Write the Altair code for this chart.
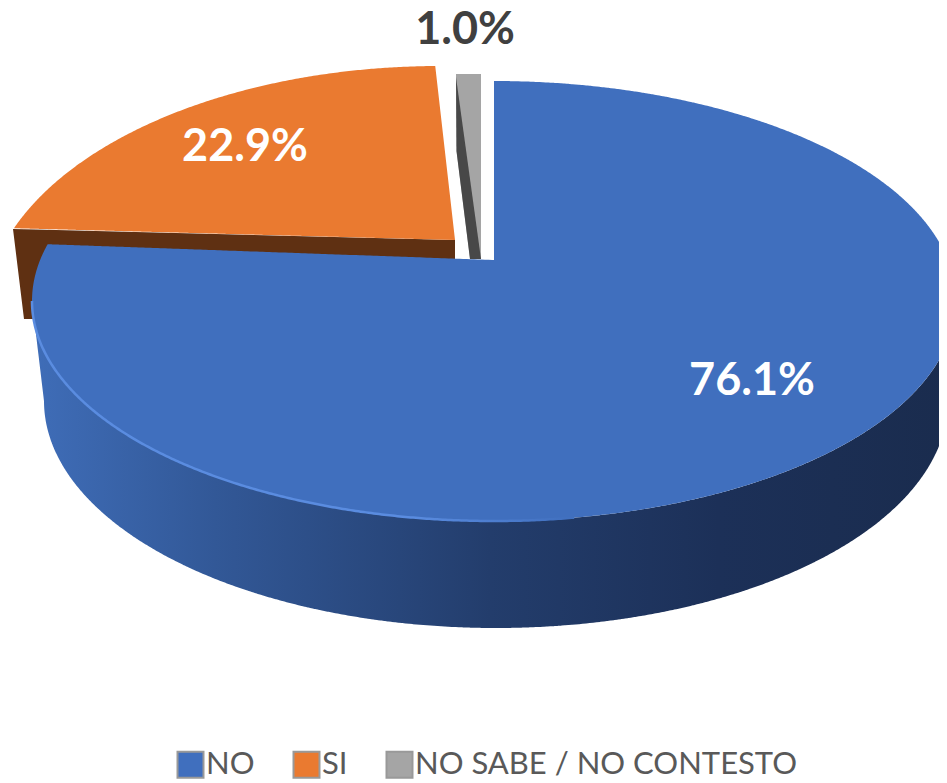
import numpy as np
import pandas as pd
import altair as alt

# Values
categories = ["NO", "SI", "NO SABE / NO CONTESTO"]
values = [76.1, 22.9, 1.0]
labels = ["76.1%", "22.9%", "1.0%"]
colors = ["#406fbe", "#ea7a30", "#a5a5a5"]
label_colors = ["#ffffff", "#ffffff", "#404040"]
label_x = [752, 245, 465]
label_y = [380, 146, 29]

# Page-pixel frame of the chart
X0, X1, Y0, Y1 = 8, 939, 10, 777


def ellipse(cx, cy, rx, ry, a0, a1, n=240):
    t = np.radians(np.linspace(a0, a1, n))
    return cx + rx * np.sin(t), cy - ry * np.cos(t)


def band(top, bottom, **extra):
    xs = np.unique(np.concatenate([top[0], bottom[0]]))
    xs = xs[(xs >= max(top[0].min(), bottom[0].min())) & (xs <= min(top[0].max(), bottom[0].max()))]
    d = pd.DataFrame({"px": xs, "ytop": np.interp(xs, top[0], top[1]), "ybot": np.interp(xs, bottom[0], bottom[1])})
    for k, v in extra.items():
        d[k] = v
    return d


def poly(*pts):
    a = np.array(pts, dtype=float)
    return a[:, 0], a[:, 1]


# Perspective: sweep angles come from the values, shifted by how the 3-D view skews them
blue_end = 3.6 * values[0] + 11
orange_start = 3.6 * values[0] + 16.6
orange_end = 3.6 * (values[0] + values[1]) + 3

BLUE = (494, 300, 462, 220)
LOWER = (496, 400, 452, 227)
ORANGE = (440, 315, 455, 250)

# Blue top face
ex, ey = ellipse(*BLUE, blue_end, 270)          # upper-left rim, running leftwards
bx_mid, by_mid = poly((ex[0], ey[0]), (494, 259))
rx_r, ry_r = ellipse(*BLUE, 0.01, 90)
top_x = np.concatenate([ex[::-1], bx_mid[1:], [494.005], rx_r])
top_y = np.concatenate([ey[::-1], by_mid[1:], [BLUE[1] - BLUE[3]], ry_r])
low_x, low_y = ellipse(*BLUE, 270, 90, 400)
blue_top = band((top_x, top_y), (low_x, low_y), slice=categories[0])

# Blue wall
lx, ly = ellipse(*LOWER, 270, 90, 400)
wall_bx = np.concatenate([[low_x[0]], lx])
wall_by = np.concatenate([[low_y[0]], ly])
blue_wall = band((low_x, low_y), (wall_bx, wall_by))

# Rim highlight
rim_x, rim_y = ellipse(*BLUE, 270, 170, 300)
rim = pd.DataFrame({"px": rim_x, "ytop": rim_y})

# Orange top face and wall
ox, oy = ellipse(*ORANGE, orange_start, orange_end)
o_top = (np.concatenate([ox, [455]]), np.concatenate([oy, [239]]))
o_bot = poly((ox[0], oy[0]), (455, 239))
orange_top = band(o_top, o_bot, slice=categories[1])
brown = band(poly((13, 228), (455, 239)), poly((13, 228), (24, 318), (36, 318), (455, 258)))

# Grey slice
grey_top = band(poly((456, 73), (481, 73)), poly((456, 73), (456.5, 150), (470, 258), (481, 258)), slice=categories[2])
grey_dark = band(poly((456, 76), (481, 258)), poly((456, 76), (456.5, 150), (470, 258), (481, 258)))

xs = alt.Scale(domain=[X0, X1], nice=False, zero=False)
ys = alt.Scale(domain=[Y1, Y0], nice=False, zero=False)
X = alt.X("px:Q", scale=xs, axis=None)
Y = alt.Y("ytop:Q", scale=ys, axis=None, stack=None)
Y2 = alt.Y2("ybot:Q")
color_scale = alt.Scale(domain=categories, range=colors)
legend = alt.Legend(
    title=None, orient="none", legendX=167, legendY=738, direction="horizontal", columns=3,
    symbolType="square", symbolSize=676, symbolStrokeWidth=2, symbolStrokeColor="#999999",
    labelFont="Lato", labelFontSize=31, labelColor="#595959", labelOffset=0,
    columnPadding=34, symbolOpacity=1, labelLimit=500,
)

def plain(df, color):
    return alt.Chart(df).mark_area(color=color, clip=True, orient="vertical").encode(x=X, y=Y, y2=Y2)

def faced(dfs):
    return alt.Chart(pd.concat(dfs)).mark_area(clip=True, orient="vertical").encode(
        x=X, y=Y, y2=Y2,
        color=alt.Color("slice:N", scale=color_scale, legend=legend),
    )

wall_gradient = alt.Gradient(
    gradient="linear", x1=0, x2=1, y1=0, y2=0,
    stops=[
        alt.GradientStop(offset=0, color="#3f6db8"),
        alt.GradientStop(offset=0.2, color="#325897"),
        alt.GradientStop(offset=0.5, color="#233d6c"),
        alt.GradientStop(offset=0.75, color="#1c3058"),
        alt.GradientStop(offset=1, color="#1a2c4e"),
    ],
)
rim_gradient = alt.Gradient(
    gradient="linear", x1=0, x2=1, y1=0, y2=0,
    stops=[
        alt.GradientStop(offset=0, color="#5a8ce0"),
        alt.GradientStop(offset=0.7, color="#5a8ce0"),
        alt.GradientStop(offset=1, color="#406fbe"),
    ],
)

label_df = pd.DataFrame({"px": label_x, "ytop": label_y, "t": labels, "c": label_colors})
text = alt.Chart(label_df).mark_text(font="Lato", fontWeight="bold", fontSize=45, align="center", baseline="middle").encode(
    x=X, y=Y, text="t:N", color=alt.Color("c:N", scale=None, legend=None)
)

chart = alt.layer(
    plain(brown, "#5f3012"),
    plain(blue_wall, wall_gradient),
    faced([orange_top, grey_top, blue_top]),
    plain(grey_dark, "#484848"),
    alt.Chart(rim).mark_line(stroke=rim_gradient, strokeWidth=2.5, clip=True).encode(x=X, y=Y),
    text,
).properties(width=X1 - X0, height=Y1 - Y0, padding=0, background="#ffffff").configure_view(stroke=None)

chart.save("out.html", embed_options={"renderer": "svg", "actions": False})
